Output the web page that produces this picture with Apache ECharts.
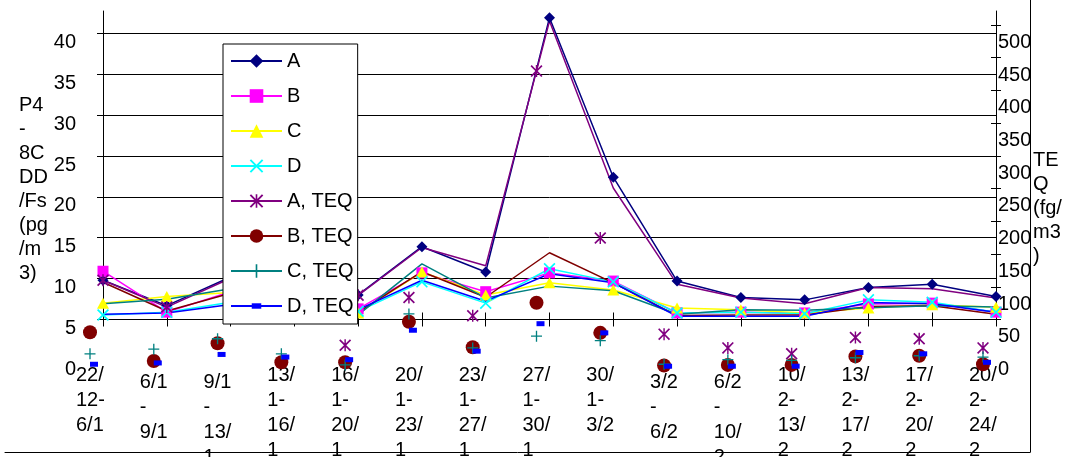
<!DOCTYPE html>
<html><head><meta charset="utf-8">
<script src="https://cdn.jsdelivr.net/npm/echarts/dist/echarts.min.js"></script>
<style>html,body{margin:0;padding:0;background:#fff}#c{width:1065px;height:457px}</style>
</head><body><div id="c"></div>
<script>
// ---------------- data ----------------
const categories = ['22/12-6/1','6/1-9/1','9/1-13/1','13/1-16/1','16/1-20/1','20/1-23/1','23/1-27/1','27/1-30/1','30/1-3/2','3/2-6/2','6/2-10/2','10/2-13/2','13/2-17/2','17/2-20/2','20/2-24/2'];
const categoryLabelLines = [
  ['22/','12-','6/1'],['6/1','-','9/1'],['9/1','-','13/','1'],['13/','1-','16/','1'],['16/','1-','20/','1'],
  ['20/','1-','23/','1'],['23/','1-','27/','1'],['27/','1-','30/','1'],['30/','1-','3/2'],['3/2','-','6/2'],
  ['6/2','-','10/','2'],['10/','2-','13/','2'],['13/','2-','17/','2'],['17/','2-','20/','2'],['20/','2-','24/','2']];
// P4-8CDD/Fs (pg/m3), left axis
const seriesA = [4.8, 1.7, 5.2, 1.3, 3.0, 8.9, 5.8, 36.9, 17.4, 4.7, 2.7, 2.4, 3.9, 4.3, 2.8];
const seriesB = [5.9, 0.9, 3.4, 2.0, 1.3, 5.7, 3.4, 5.7, 4.7, 0.8, 0.9, 0.8, 1.9, 2.0, 0.9];
const seriesC = [2.0, 2.8, 3.3, 2.4, 0.8, 5.8, 3.0, 4.5, 3.6, 1.4, 1.2, 0.8, 1.4, 1.8, 1.5];
const seriesD = [0.55, 0.9, 2.1, 1.8, 1.0, 4.6, 2.0, 6.2, 4.6, 0.8, 0.9, 0.7, 2.4, 2.1, 0.9];
// TEQ (fg/m3), right axis
const seriesATEQ = [60, 19, 63, 25, 37, 110, 82, 456, 201, 54, 33, 24, 49, 47, 33];
const seriesBTEQ = [57, 13, 40, 11, 11, 73, 34, 102, 56, 6, 7, 7, 20, 21, 8];
const seriesCTEQ = [24, 31, 47, 24, 7, 85, 33, 51, 44, 8, 15, 14, 18, 21, 19];
const seriesDTEQ = [8, 10, 23, 19, 15, 60, 28, 70, 56, 5, 5, 5, 26, 24, 11];
// axis tick labels
const leftTicks = [0, 5, 10, 15, 20, 25, 30, 35, 40];
const rightTicks = [0, 50, 100, 150, 200, 250, 300, 350, 400, 450, 500];
const leftTitle = 'P4\n-\n8C\nDD\n/Fs\n(pg\n/m\n3)';
const rightTitle = 'TE\nQ\n(fg/\nm3\n)';

// ---------------- style ----------------
const FONT = 'Arial, "Liberation Sans", Helvetica, sans-serif';
const leftMax = leftTicks[leftTicks.length - 1], leftStep = leftTicks[1] - leftTicks[0];
const rightMax = rightTicks[rightTicks.length - 1], rightStep = rightTicks[1] - rightTicks[0];
const pxPerLeft = 8.18, pxPerRight = pxPerLeft * leftMax / rightMax;
const zeroY = 319.5, plotTop = 11, L = 103, R = 1065 - 996;
const shiftX = -13, shiftY = 50;
const mainLeftMax = (zeroY - plotTop) / pxPerLeft;
const mainRightMax = (zeroY - plotTop) / pxPerRight;
const gridStepTop = zeroY - 35 * pxPerLeft;
const rightTickTop = zeroY - 450 * pxPerRight;
const shiftedTop = zeroY + shiftY - leftMax * pxPerLeft;

const SYM_X = 'path://M0,1L1,0L5,4L9,0L10,1L6,5L10,9L9,10L5,6L1,10L0,9L4,5Z';
const SYM_AST = 'path://M0,1L1,0L5,4L9,0L10,1L6,5L10,9L9,10L5,6L1,10L0,9L4,5Z M4.4,0L5.6,0L5.6,10L4.4,10Z';
const SYM_PLUS = 'path://M0,4.4L10,4.4L10,5.6L0,5.6Z M4.4,0L5.6,0L5.6,10L4.4,10Z';
const SYM_SMALLRECT = 'path://M0,0M10,10M1.5,3L8.5,3L8.5,7L1.5,7Z';
const mainAsteriskUntil = 4, shiftedAsteriskFrom = 4;

const noAxis = {axisLine:{show:false}, axisTick:{show:false}, axisLabel:{show:false}, splitLine:{show:false}};
const blackLine = {show:true, onZero:false, lineStyle:{color:'#000', width:1}};
const gridBase = {outerBoundsMode:'none', containLabel:false};

function lineSeries(name, data, color, symbol, size, yIdx, extra) {
  return Object.assign({
    name, type:'line', data, xAxisIndex:0, yAxisIndex:yIdx,
    symbol, symbolSize:size, showSymbol:true, showAllSymbol:true,
    lineStyle:{color, width:1.5}, itemStyle:{color}, color,
    animation:false, silent:true, emphasis:{disabled:true}
  }, extra || {});
}
function shiftedSeries(name, data, color, symbol, size, extra) {
  return Object.assign({
    name, type:'scatter', data, xAxisIndex:4, yAxisIndex:6,
    symbol, symbolSize:size, itemStyle:{color, opacity:1}, color,
    animation:false, silent:true, emphasis:{disabled:true}, z:3
  }, extra || {});
}

const labelRich = {
  a:{width:28, align:'left', fontSize:20, lineHeight:25, fontFamily:FONT, color:'#000'},
  p:{fontSize:1, lineHeight:7, height:7}
};

const option = {
  backgroundColor:'#fff',
  animation:false,
  grid:[
    Object.assign({left:L, right:R, top:plotTop, bottom:457 - zeroY}, gridBase),
    Object.assign({left:L, right:R, top:gridStepTop, bottom:457 - zeroY}, gridBase),
    Object.assign({left:L, right:R, top:rightTickTop, bottom:457 - zeroY}, gridBase),
    Object.assign({left:L + shiftX, right:R - shiftX, top:shiftedTop, bottom:457 - zeroY - shiftY}, gridBase),
    Object.assign({left:5, right:1065 - 1030, top:0, bottom:5}, gridBase)
  ],
  xAxis:[
    {gridIndex:0, type:'category', data:categories, boundaryGap:false, position:'bottom',
     axisLine:blackLine, axisTick:{show:true, inside:true, length:7, interval:0, lineStyle:{color:'#000'}},
     axisLabel:{show:false}, splitLine:{show:false}},
    {gridIndex:0, type:'category', data:categories, boundaryGap:false, position:'bottom',
     axisLine:{show:false}, axisTick:{show:true, inside:false, length:7, interval:0, lineStyle:{color:'#000'}},
     axisLabel:{show:false}, splitLine:{show:false}},
    Object.assign({gridIndex:1, type:'category', data:categories, boundaryGap:false}, noAxis),
    Object.assign({gridIndex:2, type:'category', data:categories, boundaryGap:false}, noAxis),
    {gridIndex:3, type:'category', data:categories, boundaryGap:false, position:'bottom',
     axisLine:{show:false}, axisTick:{show:false}, splitLine:{show:false},
     axisLabel:{show:true, interval:0, hideOverlap:false, margin:-7, color:'#000', fontSize:20, fontFamily:FONT,
       formatter:function(v, i){
         const lines = categoryLabelLines[i];
         const body = lines.map(function(s){ return '{a|' + s + '}'; }).join('\n');
         return lines[1] === '-' ? '{p| }\n' + body : body;
       }, rich:labelRich}},
    {gridIndex:4, type:'value', min:0, max:1, position:'bottom', axisLine:blackLine,
     axisTick:{show:false}, axisLabel:{show:false}, splitLine:{show:false}}
  ],
  yAxis:[
    {gridIndex:0, type:'value', min:0, max:mainLeftMax, position:'left', axisLine:blackLine,
     axisTick:{show:false}, axisLabel:{show:false}, splitLine:{show:false}},
    {gridIndex:0, type:'value', min:0, max:mainRightMax, position:'right', axisLine:blackLine,
     axisTick:{show:false}, axisLabel:{show:false}, splitLine:{show:false}},
    {gridIndex:1, type:'value', min:0, max:35, interval:leftStep, position:'left',
     axisLine:{show:false}, axisTick:{show:true, inside:false, length:6, lineStyle:{color:'#000'}},
     axisLabel:{show:false}, splitLine:{show:true, lineStyle:{color:'#000', width:1}}},
    {gridIndex:2, type:'value', min:0, max:450, interval:rightStep, position:'right',
     axisLine:{show:false}, axisTick:{show:true, inside:true, length:5, lineStyle:{color:'#000'}},
     axisLabel:{show:false}, splitLine:{show:false}},
    {gridIndex:2, type:'value', min:0, max:450, interval:rightStep, position:'right',
     axisLine:{show:false}, axisTick:{show:true, inside:false, length:5, lineStyle:{color:'#000'}},
     axisLabel:{show:false}, splitLine:{show:false}},
    {gridIndex:3, type:'value', min:0, max:leftMax, interval:leftStep, position:'left',
     axisLine:{show:false}, axisTick:{show:false}, splitLine:{show:false},
     axisLabel:{show:true, margin:14, color:'#000', fontSize:20, fontFamily:FONT, showMinLabel:true, showMaxLabel:true, hideOverlap:false}},
    {gridIndex:3, type:'value', min:0, max:rightMax, interval:rightStep, position:'right',
     axisLine:{show:false}, axisTick:{show:false}, splitLine:{show:false},
     axisLabel:{show:true, margin:15, color:'#000', fontSize:20, fontFamily:FONT, showMinLabel:true, showMaxLabel:true, hideOverlap:false}},
    {gridIndex:4, type:'value', min:0, max:1, position:'right', axisLine:blackLine,
     axisTick:{show:false}, axisLabel:{show:false}, splitLine:{show:false}}
  ],
  legend:{
    orient:'vertical', left:223, top:44, itemWidth:51, itemHeight:17, itemGap:15,
    padding:[7, 4, 8, 7], borderColor:'#000', borderWidth:1, backgroundColor:'#fff',
    textStyle:{fontSize:20, color:'#000', fontFamily:FONT, lineHeight:20}, selectedMode:false,
    data:['A','B','C','D','A, TEQ','B, TEQ','C, TEQ','D, TEQ']
  },
  graphic:[
    {type:'text', left:19, top:93, style:{text:leftTitle, font:'20px ' + FONT, lineHeight:24, fill:'#000'}},
    {type:'text', left:1033, top:148, style:{text:rightTitle, font:'20px ' + FONT, lineHeight:24, fill:'#000'}}
  ],
  series:[
    lineSeries('A', seriesA, '#000080', 'diamond', 11, 0),
    lineSeries('B', seriesB, '#FF00FF', 'rect', 11, 0),
    lineSeries('C', seriesC, '#FFFF00', 'triangle', [12, 11], 0),
    lineSeries('D', seriesD, '#00FFFF', SYM_X, 12, 0),
    lineSeries('A, TEQ', seriesATEQ.map(function(v, i){ return {value:v, symbol: i <= mainAsteriskUntil ? SYM_AST : 'none'}; }),
      '#800080', SYM_AST, 12, 1),
    lineSeries('B, TEQ', seriesBTEQ, '#800000', 'circle', 14, 1, {showSymbol:false}),
    lineSeries('C, TEQ', seriesCTEQ, '#008080', SYM_PLUS, 12, 1, {showSymbol:false}),
    lineSeries('D, TEQ', seriesDTEQ, '#0000FF', SYM_SMALLRECT, 12, 1, {showSymbol:false}),
    shiftedSeries('A, TEQ', seriesATEQ.map(function(v, i){ return {value:v, symbol: i >= shiftedAsteriskFrom ? SYM_AST : 'none'}; }),
      '#800080', SYM_AST, 12),
    shiftedSeries('B, TEQ', seriesBTEQ, '#800000', 'circle', 14),
    shiftedSeries('C, TEQ', seriesCTEQ, '#008080', SYM_PLUS, 11),
    shiftedSeries('D, TEQ', seriesDTEQ, '#0000FF', 'rect', [8, 5], {symbolOffset:[4, 0]})
  ]
};
const chart = echarts.init(document.getElementById('c'), null, {renderer:'canvas'});
chart.setOption(option);
</script></body></html>
